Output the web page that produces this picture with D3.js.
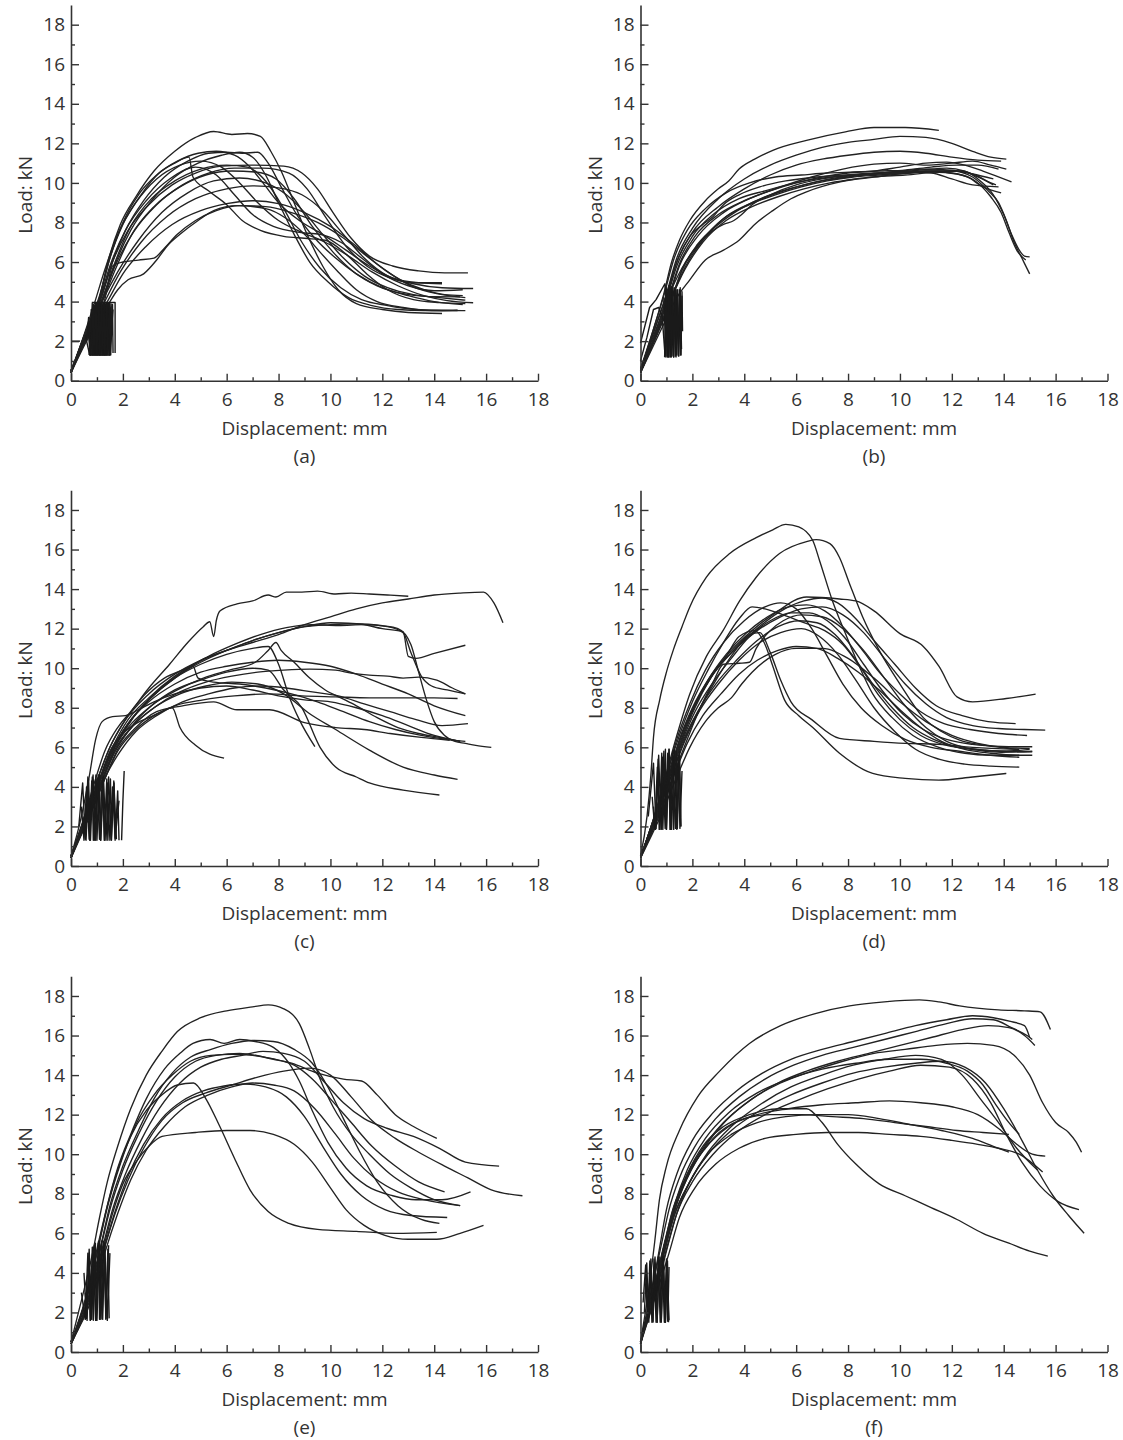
<!DOCTYPE html>
<html>
<head>
<meta charset="utf-8">
<script src="https://cdn.jsdelivr.net/npm/d3@7"></script>
<style>
  body { margin: 0; background: #fff; }
  svg { display: block; }
  text { font-family: "Open Sans", "DejaVu Sans", sans-serif; fill: #333; }
</style>
</head>
<body>
<script>
// tick values and labels
const xTicks = d3.range(0, 19, 1);
const yTicks = d3.range(0, 20, 1);
const xLabel = "Displacement: mm";
const yLabel = "Load: kN";
const panelNames = ["(a)", "(b)", "(c)", "(d)", "(e)", "(f)"];

// ---- panel (a): [displacement mm, load kN]
const curvesA = [
  [[0,0.4],[0.6,2.5],[1.1,4.2],[1.4,5.9],[1.9,7.9],[2.5,9.3],[3.2,10.6],[4,11.6],[4.8,12.3],[5.5,12.6],[6.2,12.45],[6.8,12.5],[7.3,12.35],[7.7,11.6],[8.1,10.6],[8.6,9.0],[9.1,7.4],[9.7,5.8],[10.3,4.6],[11,3.9],[12,3.6],[13,3.45],[14.3,3.4]],
  [[0,0.5],[0.7,2.7],[1.2,4.3],[1.6,6],[2.1,7.6],[2.8,9.1],[3.6,10.3],[4.5,11.1],[5.3,11.5],[6,11.55],[6.6,11.5],[7.2,11.55],[7.6,11.0],[8.1,9.8],[8.7,8.4],[9.4,7.2],[10.2,6.2],[11,5.4],[12,4.7],[13,4.3],[14,4.0],[15.1,3.85]],
  [[0,0.4],[0.6,2.6],[1.1,4.2],[1.5,6.2],[2.0,7.9],[2.7,9.4],[3.4,10.5],[4.0,11.0],[4.55,11.3],[4.7,10.3],[5.3,9.6],[6,8.9],[6.6,8.1],[7.3,7.6],[8.2,7.3],[9,7.2],[9.8,7.1],[10.6,6.4],[11.4,5.4],[12.2,4.6],[13.2,4.1],[14.2,3.95],[15.2,3.9]],
  [[0,0.5],[0.7,2.6],[1.2,4.1],[1.7,5.9],[2.3,7.6],[3.1,9.1],[4,10.3],[4.9,11.0],[5.8,11.4],[6.5,11.55],[7.0,11.3],[7.5,10.4],[8,9.0],[8.6,7.4],[9.2,6.0],[9.9,5.0],[10.7,4.2],[11.6,3.8],[12.6,3.6],[13.6,3.55],[14.9,3.55]],
  [[0,0.4],[0.6,2.4],[1.1,4.0],[1.6,6.0],[2.2,7.6],[3,8.9],[3.9,9.9],[4.8,10.5],[5.8,10.85],[7,10.9],[8.2,10.85],[8.9,10.5],[9.5,9.7],[10.1,8.5],[10.8,7.2],[11.5,6.3],[12.4,5.8],[13.4,5.55],[14.4,5.45],[15.3,5.45]],
  [[0,0.5],[0.7,2.6],[1.2,4.1],[1.7,5.8],[2.4,7.5],[3.3,8.9],[4.3,9.9],[5.3,10.5],[6.3,10.75],[7.4,10.75],[8.4,10.5],[9.1,9.7],[9.8,8.3],[10.6,6.8],[11.4,5.8],[12.3,5.2],[13.3,4.95],[14.3,4.95]],
  [[0,0.4],[0.6,2.5],[1.2,4.0],[1.7,5.6],[2.3,7.3],[3.2,8.8],[4.2,9.8],[5.2,10.4],[6.2,10.6],[7.1,10.55],[7.9,10.2],[8.6,9.2],[9.3,7.8],[10.1,6.5],[10.9,5.5],[11.8,4.8],[12.8,4.4],[13.8,4.25],[15.0,4.24]],
  [[0,0.5],[0.7,2.5],[1.2,4.0],[1.8,5.5],[2.6,7.1],[3.5,8.5],[4.5,9.5],[5.5,10.1],[6.5,10.25],[7.5,10.0],[8.3,9.4],[9,8.5],[9.7,7.4],[10.5,6.2],[11.3,5.3],[12.2,4.7],[13.2,4.35],[14.2,4.2],[15.2,4.07]],
  [[0,0.4],[0.7,2.4],[1.3,4.0],[1.9,5.5],[2.7,7.0],[3.7,8.3],[4.8,9.2],[6,9.7],[7,9.85],[8,9.75],[8.9,9.4],[9.7,8.6],[10.5,7.4],[11.3,6.2],[12.2,5.3],[13.2,4.9],[14.3,4.7],[15.5,4.66]],
  [[0,0.5],[0.8,2.6],[1.4,4.0],[2,5.4],[2.9,6.8],[3.9,7.9],[5,8.6],[6,8.95],[7,9.1],[8,8.95],[9,8.5],[10,7.8],[10.9,6.9],[11.8,5.9],[12.7,5.1],[13.6,4.6],[14.4,4.35],[15.1,4.3]],
  [[0,0.5],[0.8,2.7],[1.3,4.1],[1.6,5.8],[2.0,6.0],[2.6,6.1],[3.2,6.2],[3.6,6.7],[4.1,7.4],[4.8,8.1],[5.6,8.6],[6.5,8.85],[7.5,8.8],[8.5,8.5],[9.5,8.0],[10.4,7.3],[11.3,6.4],[12.2,5.5],[13.1,4.8],[14.1,4.4],[15.2,4.2]],
  [[0,0.4],[0.8,2.5],[1.5,4.0],[1.8,4.6],[2.2,5.1],[2.8,5.4],[3.3,6.1],[3.7,6.8],[4.2,7.4],[4.9,8.1],[5.5,8.6],[6.4,8.85],[7.5,8.7],[8.3,8.2],[9,7.4],[9.6,6.5],[10.3,5.5],[11,4.6],[11.8,4.0],[12.8,3.7],[13.9,3.55],[15.2,3.54]],
  [[0,0.4],[0.5,2.3],[0.9,3.9],[1.3,5.6],[1.8,7.4],[2.5,9.0],[3.3,10.2],[4.2,10.9],[5,11.1],[5.8,10.8],[6.5,10.0],[7.2,9.0],[8,8.1],[8.9,7.5],[9.8,7.0],[10.7,6.3],[11.6,5.5],[12.6,4.8],[13.6,4.3],[14.5,4.05],[15.5,3.94]],
  [[0,0.5],[0.6,2.5],[1.1,4.1],[1.5,5.8],[2.1,7.6],[2.9,9.1],[3.8,10.2],[4.8,10.8],[5.6,10.4],[6.3,9.4],[7,8.4],[7.8,7.8],[8.8,7.5],[9.6,7.4],[10.4,7.0],[11.2,6.2],[12,5.4],[13,4.8],[14,4.55],[15.1,4.6]],
  [[0,0.4],[0.6,2.5],[1.2,4.1],[1.7,6.0],[2.3,7.8],[3.1,9.2],[4,10.1],[5,10.7],[6,10.9],[6.8,10.8],[7.5,10.1],[8.2,8.7],[8.9,7.0],[9.6,5.7],[10.4,4.7],[11.2,4.1],[12.2,3.8],[13.3,3.6],[14.3,3.55],[14.9,3.57]],
  [[0,0.5],[0.6,2.6],[1.1,4.3],[1.5,6.2],[2,8.0],[2.6,9.4],[3.3,10.4],[4.1,11.1],[4.9,11.5],[5.6,11.6],[6.3,11.4],[6.9,10.8],[7.4,10.0],[8,9.0],[8.8,8.1],[9.7,7.4],[10.6,6.6],[11.5,5.8],[12.4,5.2],[13.4,4.95],[14.3,4.9]]
];
const loopsA = [
  [[0,2.0],[0.35,2.0]],
  [[0.55,2.3],[0.72,1.3],[0.82,3.9],[0.8,1.3],[0.95,3.95],[0.9,1.3],[1.05,3.9],[1.0,1.3],[1.15,3.95],[1.1,1.3],[1.25,3.9],[1.2,1.3],[1.35,3.95],[1.3,1.3],[1.45,3.9],[1.42,1.35],[1.55,3.9]],
  [[0.65,2.6],[0.75,1.3],[0.88,3.7],[0.85,1.3],[1.0,3.8],[0.95,1.3],[1.1,3.85],[1.05,1.3],[1.2,3.8],[1.15,1.3],[1.3,3.85],[1.25,1.3],[1.4,3.8],[1.36,1.3],[1.5,3.7],[1.48,1.3],[1.62,3.6]],
  [[0.7,1.3],[0.78,3.6],[0.83,1.3],[0.9,3.8],[0.93,1.3],[1.0,3.9],[1.03,1.3],[1.1,3.95],[1.13,1.3],[1.2,3.95],[1.23,1.3],[1.3,3.95],[1.33,1.3],[1.4,3.9],[1.43,1.3],[1.5,3.9],[1.53,1.3],[1.6,3.85],[1.62,1.4]],
  [[0.6,2.0],[0.68,3.2],[0.76,1.3],[0.86,3.85],[0.88,1.3],[0.97,3.9],[0.99,1.3],[1.08,3.9],[1.09,1.3],[1.18,3.95],[1.19,1.3],[1.28,3.9],[1.29,1.3],[1.38,3.95],[1.39,1.3],[1.48,3.9],[1.5,1.3],[1.58,3.8]],
  [[0.8,3.95],[1.7,3.95],[1.7,1.4]],
  [[0.72,1.3],[1.5,1.3]]
];

// ---- panel (b)
const curvesB = [
  [[0,0.5],[0.5,2.6],[0.9,4.4],[1.2,6.0],[1.5,7.1],[1.9,8.1],[2.5,9.1],[3.0,9.7],[3.4,10.1],[3.8,10.7],[4.4,11.2],[5.1,11.65],[6.4,12.15],[7.9,12.58],[9,12.8],[10.2,12.8],[11.5,12.66]],
  [[0,0.6],[0.6,2.8],[1.0,4.4],[1.4,6.2],[2,7.7],[3,9.2],[4,10.2],[5,10.9],[6,11.4],[7,11.8],[8,12.05],[9,12.2],[10,12.35],[11,12.3],[12,12.0],[12.8,11.6],[13.5,11.3],[14.1,11.2]],
  [[0,0.4],[0.6,2.8],[1.0,4.3],[1.4,6.0],[2,7.5],[3,8.8],[4,9.7],[5,10.4],[6,10.9],[7,11.2],[8,11.4],[9,11.55],[10,11.6],[11,11.5],[12,11.3],[13,11.15],[13.9,11.1]],
  [[0,0.5],[0.6,2.6],[1.1,4.2],[1.5,5.8],[2.2,7.3],[3.2,8.5],[4.2,9.2],[5.4,9.8],[6.6,10.3],[7.8,10.7],[9,10.95],[10,11.0],[11,10.9],[12,11.0],[12.8,11.1],[13.5,10.9],[14.1,10.7]],
  [[0,0.4],[0.7,2.7],[1.1,4.3],[1.5,5.9],[2.1,7.3],[3,8.4],[4,9.1],[5,9.6],[6,10.0],[7,10.3],[8,10.5],[9,10.6],[10,10.8],[11,11.0],[11.8,11.05],[12.5,10.9],[13.2,10.6],[14.3,10.05]],
  [[0,0.5],[0.7,2.7],[1.1,4.3],[1.6,5.7],[2.3,7.0],[3.2,8.2],[4.2,8.9],[5.2,9.4],[6.2,9.8],[7.2,10.1],[8.2,10.3],[9.2,10.4],[10.2,10.5],[11.2,10.6],[12,10.6],[12.8,10.3],[13.4,9.6],[13.8,9.0],[14.1,8.1],[14.4,7.0],[14.7,6.2],[15,5.4]],
  [[0,0.4],[0.6,2.5],[1.0,4.1],[1.4,5.8],[2,7.3],[2.8,8.4],[3.8,9.2],[4.8,9.6],[5.8,9.95],[6.8,10.2],[7.8,10.35],[8.8,10.45],[9.8,10.55],[10.8,10.65],[11.8,10.75],[12.5,10.6],[13.1,10.1],[13.6,9.4],[14.0,8.4],[14.3,7.4],[14.6,6.6],[14.8,6.3],[15.0,6.26]],
  [[0,0.5],[0.7,2.6],[1.2,4.2],[1.7,5.6],[2.4,7.0],[3.3,8.1],[4.3,8.8],[5.3,9.3],[6.3,9.7],[7.3,10.0],[8.3,10.2],[9.3,10.35],[10.3,10.5],[11.3,10.55],[12.2,10.45],[12.9,10.1],[13.5,9.3],[13.9,8.5],[14.2,7.5],[14.5,6.6],[14.85,6.1]],
  [[0,0.4],[0.7,2.5],[1.2,4.1],[1.6,5.6],[2.2,6.9],[3,7.9],[4,8.8],[5,9.4],[6,9.8],[7,10.1],[8,10.3],[9,10.45],[10,10.6],[11,10.7],[12,10.65],[12.8,10.45],[13.6,10.2]],
  [[0,0.5],[0.7,2.6],[1.2,4.2],[1.7,5.7],[2.4,7.1],[3.3,8.3],[4.3,9.0],[5.3,9.5],[6.3,9.9],[7.3,10.2],[8.3,10.4],[9.3,10.5],[10.3,10.55],[11.2,10.5],[12,10.2],[12.8,9.9],[13.8,9.8]],
  [[0,0.4],[0.8,2.6],[1.4,4.2],[1.9,5.1],[2.5,6.1],[3.2,6.6],[3.8,7.1],[4.4,7.9],[5.1,8.6],[5.8,9.2],[6.4,9.55],[7.7,10.05],[9,10.3],[10.2,10.4],[11.5,10.56],[12.4,10.6],[13.0,10.3],[13.6,9.9]],
  [[0,0.5],[0.7,2.6],[1.2,4.2],[1.6,5.6],[2.2,6.8],[2.8,7.6],[3.2,7.9],[3.6,8.1],[3.9,8.4],[4.3,8.9],[5,9.4],[6,9.9],[7,10.2],[8,10.4],[9,10.5],[10,10.55],[11,10.6],[12,10.5],[12.6,10.3],[13.2,9.8],[13.9,9.5]],
  [[0,0.4],[0.6,2.5],[1.0,4.2],[1.4,6.0],[1.9,7.3],[2.4,7.9],[2.8,8.3],[3.2,8.9],[3.8,9.4],[4.6,9.8],[5.6,10.1],[6.8,10.3],[8,10.4],[9.2,10.45],[10.4,10.5],[11.4,10.6],[12.2,10.6],[12.9,10.4],[13.5,10.0],[13.7,9.9]],
  [[0,0.6],[0.5,2.6],[0.9,4.3],[1.3,6.2],[1.8,7.6],[2.5,8.7],[3.3,9.5],[4.2,10.0],[5.2,10.3],[6.2,10.4],[7.2,10.5],[8.2,10.55],[9.2,10.6],[10.2,10.65],[11.2,10.8],[12.2,10.9],[13,10.9],[13.8,10.7]]
];
const loopsB = [
  [[0.85,3.0],[0.95,1.2],[1.0,4.7],[1.05,1.2],[1.1,4.8],[1.15,1.2],[1.2,4.75],[1.25,1.25],[1.3,4.7],[1.35,1.25],[1.4,4.6],[1.45,1.3],[1.5,4.6],[1.55,1.3],[1.6,4.5],[1.62,2.5]],
  [[0.9,4.2],[0.98,1.25],[1.03,4.4],[1.08,1.2],[1.13,4.5],[1.18,1.25],[1.23,4.6],[1.28,1.2],[1.33,4.5],[1.38,1.3],[1.43,4.4],[1.48,1.25],[1.53,4.7],[1.58,1.6]],
  [[0.93,1.2],[0.99,4.5],[1.02,1.2],[1.07,4.6],[1.1,1.2],[1.16,4.7],[1.19,1.2],[1.25,4.7],[1.28,1.2],[1.34,4.6],[1.37,1.2],[1.43,4.6],[1.46,1.25],[1.52,4.5],[1.56,1.3],[1.6,4.3]],
  [[0,1.9],[0.35,3.7],[0.6,4.1],[0.94,4.9],[1.0,4.0]],
  [[0,1.0],[0.25,2.2],[0.5,3.6],[0.7,3.7],[0.9,3.0]]
];

// ---- panel (c)
const curvesC = [
  [[0,0.4],[0.5,2.4],[0.9,4.2],[1.3,5.8],[1.8,7.0],[2.3,7.8],[3,9.0],[3.8,10.2],[4.5,11.3],[5.1,12.1],[5.35,12.35],[5.5,11.6],[5.6,12.4],[5.75,12.9],[6.4,13.25],[7,13.4],[7.6,13.7],[7.9,13.6],[8.3,13.85],[8.9,13.85],[9.5,13.9],[10.2,13.75],[10.8,13.8],[11.5,13.75],[12.2,13.7],[13.0,13.64]],
  [[0,0.5],[0.6,2.8],[1.0,4.3],[1.5,6.0],[2,7.2],[3,8.7],[4,9.7],[5,10.4],[6,10.9],[7,11.3],[8,11.7],[9,12.2],[10,12.6],[11,13.0],[12,13.3],[13,13.5],[14,13.7],[15,13.8],[15.9,13.85],[16.3,13.3],[16.65,12.3]],
  [[0,0.4],[0.6,2.7],[1.1,4.4],[1.6,6.0],[2.2,7.4],[3,8.5],[4,9.6],[5,10.4],[6,10.9],[7,11.4],[8,11.8],[9,12.1],[10,12.2],[11,12.25],[12,12.0],[12.8,11.85],[13.0,10.6],[13.3,10.5],[14,10.75],[15.2,11.16]],
  [[0,0.5],[0.7,2.8],[1.2,4.4],[1.7,6.0],[2.4,7.5],[3.3,8.8],[4.3,9.8],[5.3,10.6],[6.3,11.2],[7.3,11.7],[8.3,12.05],[9.3,12.2],[10.3,12.15],[11.3,12.2],[12.2,12.1],[12.8,11.8],[13.1,10.8],[13.5,9.6],[13.9,9.1],[14.5,8.9],[15.2,8.7]],
  [[0,0.4],[0.6,2.6],[1.1,4.3],[1.6,5.9],[2.2,7.2],[3,8.4],[4,9.5],[5,10.3],[6,10.9],[7,11.4],[8,11.8],[9,12.1],[10,12.3],[11,12.25],[12,12.15],[12.6,12.0],[13.1,11.2],[13.4,9.8],[13.7,8.4],[14.0,7.3],[14.4,6.6],[14.8,6.3],[15.2,6.2],[15.6,6.1],[16.2,6.0]],
  [[0,0.5],[0.7,2.9],[1.1,4.4],[1.5,5.8],[2,6.7],[2.5,7.2],[3,7.5],[3.5,7.8],[3.9,8.0],[4.2,7.0],[4.8,6.1],[5.9,5.45]],
  [[0,0.4],[0.6,2.6],[1.1,4.2],[1.6,5.8],[2.2,7.0],[3,8.0],[4,8.9],[5,9.4],[6,9.8],[7,10.0],[7.6,9.9],[8.2,8.9],[8.9,8.0],[9.6,6.0],[10.2,5.0],[11,4.5],[11.5,4.2],[12.8,3.84],[14.2,3.59]],
  [[0,0.5],[0.7,2.7],[1.2,4.3],[1.7,5.9],[2.4,7.1],[3.2,8.0],[4.2,8.7],[5.2,9.1],[6.2,9.3],[7.2,9.2],[8.2,8.7],[9.2,7.7],[10.2,6.9],[11.5,5.86],[12.8,5.0],[14.0,4.6],[14.9,4.38]],
  [[0,0.4],[0.6,2.6],[1.1,4.3],[1.6,5.9],[2.2,7.2],[3,8.4],[4,9.5],[5,10.2],[6,10.7],[7,11.0],[7.6,11.1],[8,10.2],[8.4,8.6],[8.8,7.4],[9.4,6.03]],
  [[0,0.5],[0.8,2.8],[1.3,4.4],[1.8,5.8],[2.5,6.9],[3.2,7.6],[4,8.1],[5.1,8.4],[6.3,8.6],[7.6,8.7],[8.9,8.6],[10.2,8.55],[11.5,8.5],[12.8,8.5],[14.0,8.5],[14.9,8.47]],
  [[0,0.4],[0.7,2.7],[1.2,4.3],[1.7,5.8],[2.4,7.1],[3.2,8.0],[4.2,8.8],[5.2,9.3],[6.2,9.6],[7.2,9.8],[8.2,9.9],[9.2,9.95],[10.2,9.9],[10.8,9.75],[11.5,9.65],[12.2,9.6],[12.8,9.5],[13.4,9.55],[14.1,9.4],[14.7,9.0],[15.2,8.7]],
  [[0,0.5],[0.6,2.6],[1.1,4.3],[1.6,5.9],[2.2,7.2],[3,8.3],[4,9.2],[5,9.8],[6,10.1],[7,10.3],[8,10.4],[9,10.3],[10,10.1],[11,9.7],[12,9.2],[13,8.7],[14,8.1],[15.2,7.6]],
  [[0,0.4],[0.8,2.8],[1.3,4.4],[1.8,5.9],[2.5,7.0],[3.3,7.8],[4.3,8.1],[5.5,8.3],[6.4,7.9],[7.65,7.9],[9,7.25],[10.2,7.0],[11.3,6.9],[12.3,6.7],[13.5,6.5],[14.6,6.36]],
  [[0,0.5],[0.7,2.7],[1.2,4.3],[1.7,5.8],[2.3,7.0],[3.1,8.1],[4.1,8.9],[5.1,9.5],[6.1,9.9],[7.1,10.3],[7.6,10.9],[7.9,11.3],[8.1,10.9],[8.6,10.3],[9.2,9.5],[9.8,8.9],[10.4,8.5],[11,8.1],[11.8,7.5],[12.6,7.0],[13.4,6.7],[14.2,6.5],[15,6.3]],
  [[0,0.4],[0.7,2.6],[1.2,4.2],[1.8,5.6],[2.5,6.8],[3.3,7.6],[4.3,8.3],[5.3,8.7],[6.3,9.0],[7.3,9.1],[8.3,9.0],[9.3,8.8],[10.3,8.6],[11.3,8.2],[12.3,7.8],[13.3,7.4],[14.3,7.1],[15.3,7.2]],
  [[0,0.5],[0.4,2.5],[0.7,4.5],[0.95,6.4],[1.2,7.3],[1.6,7.55],[2.1,7.6],[2.6,7.9],[3.2,8.3],[4,8.7],[5,9.0],[6,9.1],[7,8.9],[8,8.6],[9,8.4],[10,8.3],[11,8.0],[12,7.6],[13,7.1],[14,6.6],[15,6.3]],
  [[0,0.4],[0.6,2.7],[1.0,4.3],[1.5,6.0],[2.1,7.4],[2.8,8.6],[3.6,9.5],[4.3,9.9],[4.7,10.1],[4.9,9.5],[5.5,9.3],[6.5,9.2],[7.5,9.0],[8.5,8.7],[9.5,8.3],[10.5,7.8],[11.5,7.3],[12.5,6.9],[13.5,6.6],[14.5,6.4],[15.2,6.3]]
];
const loopsC = [
  [[0.3,2.0],[0.45,4.2],[0.55,1.35],[0.65,4.5],[0.75,1.3],[0.85,4.6],[0.95,1.3],[1.05,4.6],[1.15,1.3],[1.25,4.5],[1.35,1.3],[1.45,4.5],[1.55,1.35],[1.65,4.3],[1.75,1.35]],
  [[0.4,3.0],[0.5,1.3],[0.6,4.0],[0.7,1.35],[0.8,4.3],[0.9,1.3],[1.0,4.4],[1.1,1.35],[1.2,4.3],[1.3,1.3],[1.4,4.2],[1.5,1.3],[1.6,4.0],[1.7,1.4],[1.85,3.3]],
  [[0.5,2.5],[0.58,1.3],[0.68,4.4],[0.72,1.3],[0.82,4.5],[0.86,1.3],[0.96,4.6],[1.0,1.3],[1.1,4.6],[1.14,1.3],[1.24,4.5],[1.28,1.3],[1.38,4.4],[1.42,1.3],[1.52,4.4],[1.56,1.3],[1.66,4.2],[1.7,1.3],[1.8,3.8],[1.85,1.3]],
  [[1.95,1.3],[2.0,3.3],[2.05,4.8]]
];

// ---- panel (d)
const curvesD = [
  [[0,0.5],[0.25,2.5],[0.4,4.6],[0.5,6.5],[0.74,8.4],[1.0,9.8],[1.26,10.9],[1.6,12.1],[1.9,13.1],[2.54,14.6],[3.44,15.8],[4.46,16.6],[5.1,17.0],[5.6,17.27],[6.1,17.14],[6.64,16.46],[6.9,15.45],[7.4,13.4],[7.9,11.75],[8.44,10.07],[8.95,8.7],[9.7,7.5],[10.5,6.6],[11.5,6.0],[12.5,5.7],[13.5,5.6],[14.6,5.6]],
  [[0,0.4],[0.6,2.8],[1.0,4.7],[1.4,6.6],[1.9,8.7],[2.54,10.6],[3.18,11.9],[3.82,13.4],[4.46,14.6],[5.36,15.8],[6.4,16.4],[6.77,16.5],[7.3,16.3],[7.67,15.6],[8.05,14.3],[8.56,12.6],[9.2,10.9],[10,9.2],[10.9,7.5],[11.6,6.8],[12.3,6.36],[13.3,6.1],[14.5,5.9]],
  [[0,0.5],[0.7,2.9],[1.1,4.6],[1.5,6.4],[2,8.0],[2.7,9.6],[3.5,10.9],[4.3,11.9],[5.2,12.8],[6.4,13.6],[7.67,13.5],[8.3,13.4],[9,12.9],[10,11.75],[10.9,11.1],[11.5,10.1],[12.2,8.55],[12.8,8.3],[14.1,8.47],[15.23,8.69]],
  [[0,0.4],[0.6,2.7],[1.1,4.5],[1.5,6.3],[2,7.9],[2.7,9.5],[3.5,10.8],[4.4,11.9],[5.3,12.8],[6.3,13.4],[7,13.55],[7.6,13.3],[8.3,12.5],[9,11.4],[9.8,10.2],[10.6,9.0],[11.4,8.1],[12.4,7.6],[13.4,7.3],[14.46,7.2]],
  [[0,0.5],[0.7,2.8],[1.1,4.6],[1.6,6.5],[2.1,8.1],[2.8,9.7],[3.6,10.9],[4.5,11.9],[5.4,12.6],[6.2,13.0],[7,13.1],[7.8,12.7],[8.6,11.8],[9.4,10.5],[10.2,9.2],[11,8.2],[11.8,7.5],[12.8,7.1],[13.8,6.95],[14.8,6.9],[15.6,6.87]],
  [[0,0.4],[0.6,2.6],[1.0,4.4],[1.5,6.3],[2.0,7.9],[2.6,9.4],[3.3,10.7],[4.1,11.8],[4.9,12.6],[5.7,13.1],[6.4,13.2],[7.1,12.9],[7.8,12.1],[8.5,11.0],[9.2,9.8],[10,8.7],[10.8,7.8],[11.7,7.2],[12.7,6.9],[13.8,6.7],[14.9,6.6]],
  [[0,0.5],[0.7,2.7],[1.1,4.5],[1.6,6.3],[2.1,7.8],[2.8,9.3],[3.5,10.5],[4.2,11.6],[5,12.4],[5.8,12.8],[6.5,12.8],[7.2,12.4],[7.9,11.5],[8.6,10.2],[9.3,8.9],[10.1,7.7],[10.9,6.9],[11.8,6.4],[12.8,6.15],[13.9,6.05],[15.1,6.03]],
  [[0,0.4],[0.6,2.6],[1.1,4.4],[1.6,6.2],[2.2,7.8],[2.9,9.2],[3.7,10.4],[4.5,11.4],[5.3,12.1],[6.1,12.4],[6.8,12.3],[7.5,11.7],[8.2,10.6],[8.9,9.3],[9.7,8.0],[10.5,7.0],[11.3,6.4],[12.2,6.0],[13.3,5.85],[15.1,5.77]],
  [[0,0.5],[0.7,2.8],[1.2,4.6],[1.7,6.3],[2.3,7.9],[3.0,9.2],[3.8,10.4],[4.6,11.3],[5.4,11.8],[6.2,12.0],[6.9,11.6],[7.6,10.7],[8.3,9.4],[9,8.0],[9.8,6.8],[10.6,5.9],[11.5,5.4],[12.5,5.15],[13.5,5.05],[14.6,5.0]],
  [[0,0.4],[0.6,2.7],[1.1,4.5],[1.6,6.4],[2.1,8.0],[2.7,9.5],[3.3,10.6],[3.8,11.6],[4.4,11.9],[4.8,11.2],[5.1,10.1],[5.55,8.4],[6.1,7.6],[6.64,7.0],[7.67,5.7],[8.95,4.68],[10.2,4.43],[11.5,4.34],[12.8,4.5],[14.1,4.68]],
  [[0,0.5],[0.7,2.8],[1.2,4.6],[1.7,6.4],[2.3,8.0],[3,9.6],[3.6,10.8],[4.2,11.7],[4.6,11.8],[5.0,10.8],[5.4,9.4],[5.8,8.3],[6.6,7.4],[7.67,6.45],[9,6.3],[10.2,6.2],[11.5,6.15],[12.8,6.0],[14.6,5.9]],
  [[0,0.4],[0.8,2.8],[1.3,4.6],[1.8,6.2],[2.4,7.6],[3.1,8.7],[3.8,9.7],[4.5,10.4],[5.3,10.9],[6.0,11.1],[6.8,11.0],[7.6,10.5],[8.4,9.8],[9.2,8.9],[10,7.9],[10.8,7.0],[11.6,6.3],[12.5,5.9],[13.5,5.7],[14.5,5.6],[15.1,5.6]],
  [[0,0.5],[0.8,2.9],[1.3,4.7],[1.8,6.4],[2.3,8.0],[2.8,9.3],[3.2,10.2],[3.8,10.25],[4.2,10.3],[4.46,11.0],[5.0,11.9],[5.5,12.4],[6.2,12.7],[7,12.6],[7.8,12.0],[8.6,10.9],[9.4,9.5],[10.2,8.1],[11,7.0],[11.8,6.3],[12.8,5.9],[13.9,5.75],[15.1,5.8]],
  [[0,0.4],[0.8,2.6],[1.4,4.5],[1.9,6.0],[2.5,7.3],[3.0,8.0],[3.5,8.5],[3.9,9.2],[4.3,9.8],[5.2,10.7],[6,11.0],[7,11.0],[8,10.5],[9,9.5],[10,8.3],[11,7.3],[12,6.6],[13,6.2],[14,6.0],[15.0,5.95]],
  [[0,0.5],[0.6,2.7],[1.0,4.5],[1.4,6.4],[1.9,8.2],[2.5,9.9],[3.2,11.3],[4,12.4],[4.8,13.1],[5.4,13.3],[6.0,13.0],[6.6,12.0],[7.2,10.6],[7.8,9.2],[8.5,8.0],[9.3,7.1],[10.2,6.4],[11.2,6.0],[12.3,5.8],[13.5,5.6],[14.6,5.5]],
  [[0,0.4],[0.6,2.8],[1.0,4.6],[1.5,6.6],[2,8.3],[2.6,9.9],[3.2,11.3],[3.8,12.5],[4.3,13.1],[4.8,13.0],[5.5,12.7],[6.3,12.3],[7.1,11.9],[7.8,11.2],[8.5,10.0],[9.2,8.6],[10,7.4],[10.8,6.6],[11.8,6.1],[13,5.9],[14,5.8],[15.0,5.9]]
];
const loopsD = [
  [[0.3,2.5],[0.5,5.2],[0.6,1.9],[0.7,5.6],[0.8,1.85],[0.9,5.8],[1.0,1.85],[1.1,5.9],[1.2,1.85],[1.3,5.9],[1.4,1.85],[1.5,5.8],[1.55,2.0]],
  [[0.45,3.5],[0.55,1.9],[0.65,5.0],[0.75,1.85],[0.85,5.5],[0.95,1.9],[1.05,5.7],[1.15,1.85],[1.25,5.6],[1.35,1.9],[1.45,5.5],[1.52,1.9],[1.6,4.8]],
  [[0.5,3.0],[0.58,1.85],[0.68,5.4],[0.72,1.85],[0.82,5.7],[0.86,1.85],[0.96,5.9],[1.0,1.85],[1.1,5.9],[1.14,1.85],[1.24,5.8],[1.28,1.85],[1.38,5.8],[1.42,1.9],[1.5,5.6],[1.56,2.0]]
];

// ---- panel (e)
const curvesE = [
  [[0,0.5],[0.4,2.6],[0.8,4.8],[1.1,6.8],[1.4,8.6],[1.8,10.4],[2.3,12.3],[2.9,14.0],[3.5,15.2],[4.1,16.2],[5,16.9],[6,17.25],[7,17.45],[7.6,17.55],[8.2,17.35],[8.8,16.6],[9.2,15.3],[9.6,13.8],[10.1,12.4],[10.8,11.0],[11.5,10.0],[12.3,9.0],[13.1,8.3],[14.0,7.7],[15.0,7.4]],
  [[0,0.4],[0.6,2.8],[1.0,5.0],[1.4,7.4],[1.8,9.3],[2.3,11.0],[2.9,12.8],[3.6,14.3],[4.2,15.1],[4.7,15.6],[5.36,15.8],[5.9,15.6],[6.5,15.8],[7.1,15.7],[7.8,15.4],[8.4,14.6],[8.8,13.7],[9.3,12.2],[9.9,10.6],[10.6,9.3],[11.4,8.4],[12.4,7.9],[13.3,7.7],[14.3,7.7],[15.4,8.1]],
  [[0,0.5],[0.6,2.7],[1.1,5.1],[1.5,7.4],[2.0,9.4],[2.6,11.2],[3.2,12.8],[3.9,14.1],[4.6,14.9],[5.4,15.3],[6.2,15.6],[7,15.75],[7.8,15.7],[8.6,15.3],[9.3,14.6],[9.9,13.4],[10.5,11.8],[11.1,10.2],[11.8,8.6],[12.6,7.4],[13.5,6.7],[14.2,6.5]],
  [[0,0.4],[0.7,2.8],[1.1,5.0],[1.5,7.2],[2.0,9.2],[2.6,11.0],[3.3,12.7],[4.0,13.9],[4.8,14.7],[5.6,15.0],[6.5,15.1],[7.5,14.9],[8.5,14.6],[9.5,14.1],[10.5,13.8],[11.2,13.7],[11.8,13.0],[12.5,12.0],[13.2,11.4],[14.1,10.8]],
  [[0,0.5],[0.7,2.9],[1.2,5.2],[1.6,7.2],[2.1,9.0],[2.7,10.7],[3.4,12.3],[4.2,13.6],[5,14.4],[5.8,14.8],[6.6,15.0],[7.4,15.2],[8.2,15.1],[9,14.7],[9.8,13.6],[10.5,12.6],[11.3,11.8],[12.2,11.3],[13.2,10.9],[14.2,10.3],[15.2,9.6],[16.5,9.4]],
  [[0,0.4],[0.8,2.9],[1.3,5.3],[1.7,7.0],[2.2,8.7],[2.8,10.3],[3.5,11.7],[4.3,12.6],[5.2,13.1],[6.2,13.5],[7.2,13.9],[8.2,14.2],[9.2,14.35],[10,14.0],[10.8,12.9],[11.6,11.7],[12.5,10.8],[13.4,10.1],[14.4,9.4],[15.3,8.8],[16.2,8.2],[17.4,7.9]],
  [[0,0.5],[0.8,2.7],[1.3,5.0],[1.8,7.0],[2.3,8.7],[2.9,10.2],[3.6,11.4],[4.4,12.4],[5.3,13.0],[6.2,13.4],[7,13.6],[7.8,13.5],[8.6,13.2],[9.4,12.3],[10.2,11.0],[10.9,9.8],[11.7,8.8],[12.6,8.1],[13.6,7.7],[15.0,7.4]],
  [[0,0.4],[0.7,2.7],[1.2,4.9],[1.7,7.1],[2.2,8.9],[2.8,10.5],[3.5,11.8],[4.3,12.7],[5.1,13.2],[5.9,13.45],[6.7,13.55],[7.5,13.4],[8.3,12.9],[9,11.9],[9.7,10.4],[10.4,9.0],[11.2,7.9],[12.1,7.2],[13.1,6.9],[14.5,6.8]],
  [[0,0.5],[0.6,2.9],[1.0,5.2],[1.4,7.4],[1.8,9.2],[2.3,10.9],[2.9,12.2],[3.5,13.0],[4.1,13.5],[4.72,13.6],[5.2,12.8],[5.7,11.5],[6.3,9.8],[6.9,8.2],[7.6,7.1],[8.4,6.5],[9.5,6.2],[11,6.1],[12.5,6.0],[14.1,6.05]],
  [[0,0.4],[0.7,2.7],[1.2,5.0],[1.6,7.0],[2.0,8.5],[2.5,9.6],[3.0,10.4],[3.51,10.9],[4.8,11.1],[6,11.2],[6.9,11.2],[7.8,11.0],[8.6,10.5],[9.3,9.6],[10,8.3],[10.6,7.2],[11.3,6.4],[12.1,5.9],[13,5.7],[14.1,5.7],[15.0,6.0],[15.9,6.4]],
  [[0,0.5],[0.6,2.8],[1.0,5.0],[1.4,7.3],[1.9,9.5],[2.5,11.5],[3.2,13.0],[3.9,14.0],[4.6,14.7],[5.4,15.0],[6.2,15.05],[7,15.0],[7.8,14.8],[8.6,14.5],[9.3,13.8],[10,12.8],[10.8,11.6],[11.6,10.4],[12.5,9.4],[13.4,8.6],[14.4,8.1]]
];
const loopsE = [
  [[0.4,3.0],[0.55,1.65],[0.65,5.0],[0.75,1.6],[0.85,5.3],[0.95,1.6],[1.05,5.5],[1.15,1.65],[1.25,5.6],[1.35,1.7],[1.45,5.4]],
  [[0.5,4.0],[0.6,1.7],[0.7,5.2],[0.8,1.65],[0.9,5.4],[1.0,1.6],[1.1,5.6],[1.2,1.7],[1.3,5.5],[1.4,1.6],[1.5,5.0]],
  [[0.55,3.0],[0.62,1.6],[0.7,5.0],[0.74,1.6],[0.82,5.3],[0.86,1.6],[0.94,5.5],[0.98,1.6],[1.06,5.6],[1.1,1.65],[1.18,5.6],[1.22,1.65],[1.3,5.5],[1.34,1.65],[1.42,5.2],[1.47,1.7]]
];

// ---- panel (f)
const curvesF = [
  [[0,0.5],[0.3,3.0],[0.55,5.6],[0.73,7.7],[1.0,9.4],[1.5,11.2],[2.2,12.9],[3.05,14.2],[4.2,15.6],[5.4,16.5],[6.7,17.1],[8.06,17.5],[9.4,17.7],[10.75,17.8],[11.5,17.7],[12.3,17.5],[13.8,17.3],[14.8,17.25],[15.4,17.2],[15.8,16.3]],
  [[0,0.4],[0.4,2.8],[0.7,5.0],[1.0,7.2],[1.4,9.0],[2,10.7],[2.8,12.1],[3.7,13.2],[4.7,14.1],[5.8,14.8],[7,15.3],[8.2,15.7],[9.4,16.1],[10.6,16.5],[11.8,16.8],[12.8,17.0],[13.6,16.9],[14.3,16.7],[14.8,16.5],[15.0,15.9]],
  [[0,0.5],[0.4,3.0],[0.8,5.4],[1.1,7.2],[1.5,8.8],[2.1,10.4],[2.9,11.8],[3.8,12.9],[4.8,13.8],[5.9,14.5],[7,15.0],[8.2,15.4],[9.4,15.8],[10.6,16.2],[11.8,16.6],[12.8,16.85],[13.6,16.8],[14.3,16.4],[14.9,16.0],[15.1,15.8]],
  [[0,0.4],[0.5,3.1],[0.9,5.3],[1.2,7.0],[1.7,8.7],[2.4,10.3],[3.2,11.6],[4.2,12.7],[5.3,13.6],[6.4,14.2],[7.6,14.7],[8.8,15.1],[10,15.5],[11.2,15.9],[12.4,16.3],[13.4,16.5],[14.2,16.4],[14.8,16.0],[15.2,15.5]],
  [[0,0.5],[0.5,3.0],[0.9,5.2],[1.3,7.1],[1.8,8.8],[2.5,10.4],[3.3,11.7],[4.3,12.8],[5.4,13.6],[6.6,14.2],[7.8,14.7],[9,15.1],[10.2,15.3],[11.4,15.5],[12.6,15.6],[13.6,15.5],[14.4,15.0],[15.0,14.0],[15.5,12.6],[16.0,11.6],[16.5,11.1],[16.8,10.6],[17.0,10.1]],
  [[0,0.4],[0.5,2.9],[0.9,5.0],[1.3,6.9],[1.9,8.6],[2.6,10.0],[3.5,11.2],[4.6,12.2],[5.8,13.0],[7,13.6],[8.2,14.1],[9.4,14.4],[10.6,14.6],[11.6,14.7],[12.5,14.4],[13.3,13.6],[14,12.3],[14.7,10.7],[15.3,9.2],[15.9,7.9],[16.5,6.9],[17.1,6.0]],
  [[0,0.5],[0.6,3.1],[1.0,5.2],[1.4,7.0],[2.0,8.6],[2.8,10.0],[3.7,11.1],[4.8,12.0],[6,12.7],[7.2,13.3],[8.4,13.8],[9.6,14.2],[10.8,14.5],[11.9,14.4],[12.8,13.8],[13.5,12.6],[14.1,11.0],[14.7,9.6],[15.4,8.4],[16.1,7.6],[16.9,7.2]],
  [[0,0.4],[0.5,3.0],[0.9,5.3],[1.3,7.3],[1.8,9.0],[2.4,10.4],[3.2,11.4],[4.2,12.0],[5.4,12.3],[6.4,12.3],[7.0,11.6],[7.6,10.5],[8.3,9.5],[9.2,8.5],[10.2,7.9],[11.2,7.3],[12.2,6.7],[13.2,6.0],[14.2,5.5],[15.0,5.1],[15.7,4.85]],
  [[0,0.5],[0.6,3.0],[1.0,5.1],[1.4,7.0],[1.9,8.6],[2.6,10.0],[3.5,11.0],[4.5,11.6],[5.6,11.9],[6.8,12.0],[8,12.0],[9.2,11.8],[10.4,11.5],[11.6,11.2],[12.8,10.8],[13.6,10.4],[14.2,10.1]],
  [[0,0.4],[0.6,2.9],[1.1,5.0],[1.5,6.8],[2.1,8.3],[2.9,9.5],[3.8,10.3],[4.8,10.8],[6,11.0],[7.2,11.1],[8.4,11.1],[9.6,11.0],[10.8,10.9],[12,10.7],[13,10.5],[13.8,10.3],[14.6,10.0],[15.5,9.1]],
  [[0,0.5],[0.5,3.0],[0.9,5.3],[1.3,7.2],[1.8,8.9],[2.5,10.3],[3.4,11.4],[4.5,12.0],[5.7,12.3],[7,12.5],[8.3,12.6],[9.6,12.7],[10.8,12.6],[12,12.4],[13,12.0],[13.8,11.3],[14.5,10.5],[15.1,10.0],[15.6,9.9]],
  [[0,0.4],[0.5,3.1],[0.9,5.4],[1.3,7.4],[1.8,9.2],[2.5,10.8],[3.4,12.1],[4.5,13.1],[5.7,13.8],[7,14.3],[8.3,14.6],[9.6,14.8],[10.8,14.8],[11.8,14.6],[12.6,14.2],[13.2,13.5],[13.7,12.5],[14.2,11.6],[14.6,11.0]],
  [[0,0.5],[0.6,3.2],[1.0,5.5],[1.4,7.5],[2,9.3],[2.8,10.8],[3.8,11.7],[5,12.0],[6.2,12.0],[7.4,11.9],[8.6,11.8],[9.8,11.6],[11,11.4],[12.2,11.2],[13.2,11.1],[14.2,11.0]],
  [[0,0.4],[0.5,2.9],[0.9,5.0],[1.3,6.9],[1.9,8.6],[2.6,10.1],[3.5,11.4],[4.6,12.5],[5.8,13.4],[7,14.0],[8.2,14.5],[9.4,14.8],[10.6,15.0],[11.6,14.8],[12.4,14.0],[13.1,12.8],[13.8,11.6],[14.5,10.3],[15.3,9.2]]
];
const loopsF = [
  [[0.1,2.5],[0.2,4.4],[0.28,1.55],[0.36,4.6],[0.44,1.5],[0.52,4.7],[0.6,1.5],[0.68,4.8],[0.76,1.5],[0.84,4.8],[0.92,1.5],[1.0,4.7],[1.05,1.55],[1.1,4.3]],
  [[0.2,3.2],[0.3,1.6],[0.4,4.2],[0.48,1.55],[0.56,4.5],[0.64,1.5],[0.72,4.6],[0.8,1.55],[0.88,4.7],[0.96,1.5],[1.02,4.6],[1.1,1.6]],
  [[0.15,2.0],[0.24,4.5],[0.32,1.5],[0.4,4.7],[0.48,1.5],[0.56,4.8],[0.64,1.5],[0.72,4.8],[0.8,1.5],[0.88,4.8],[0.96,1.5],[1.04,4.6],[1.08,1.5]]
];

// layout
const W = 1123, H = 1440;
const plotW = 467, plotH = 375.8;
const colX = [71, 640.5];
const rowTop = [4.9, 490.2, 976.2];

const panels = [
  {name: panelNames[0], curves: curvesA, loops: loopsA, col: 0, row: 0},
  {name: panelNames[1], curves: curvesB, loops: loopsB, col: 1, row: 0},
  {name: panelNames[2], curves: curvesC, loops: loopsC, col: 0, row: 1},
  {name: panelNames[3], curves: curvesD, loops: loopsD, col: 1, row: 1},
  {name: panelNames[4], curves: curvesE, loops: loopsE, col: 0, row: 2},
  {name: panelNames[5], curves: curvesF, loops: loopsF, col: 1, row: 2}
];

const svg = d3.select("body").append("svg")
  .attr("width", W)
  .attr("height", H);

const xScale = d3.scaleLinear().domain([0, 18]).range([0, plotW]);
const yScale = d3.scaleLinear().domain([0, 19]).range([plotH, 0]);

const curveLine = d3.line()
  .x(d => xScale(d[0]))
  .y(d => yScale(d[1]))
  .curve(d3.curveMonotoneX);

const loopLine = d3.line()
  .x(d => xScale(d[0]))
  .y(d => yScale(d[1]));

panels.forEach(p => {
  var g = svg.append("g")
    .attr("transform", "translate(" + colX[p.col] + "," + rowTop[p.row] + ")");

  // curves first, axes drawn over them
  g.append("g").selectAll("path")
    .data(p.curves)
    .enter()
    .append("path")
    .attr("d", curveLine)
    .attr("fill", "none")
    .attr("stroke", "#222")
    .attr("stroke-width", 1.35)
    .attr("stroke-linejoin", "round");

  // unloading / reloading cycles near the origin
  g.append("g").selectAll("path")
    .data(p.loops)
    .enter()
    .append("path")
    .attr("d", loopLine)
    .attr("fill", "none")
    .attr("stroke", "#1a1a1a")
    .attr("stroke-width", 1.4)
    .attr("stroke-linejoin", "round");

  // x axis, ticks pointing up into the plot
  var xAxis = d3.axisBottom(xScale)
    .tickValues(xTicks)
    .tickSizeInner(-7)
    .tickSizeOuter(0)
    .tickPadding(11.5)
    .tickFormat(d => d % 2 === 0 ? d : "");

  g.append("g")
    .attr("transform", "translate(0," + plotH + ")")
    .call(xAxis)
    .call(a => a.select(".domain").attr("stroke", "#333").attr("stroke-width", 1.6))
    .call(a => a.selectAll(".tick line").attr("stroke", "#333").attr("stroke-width", 1.4)
       .attr("y2", d => d % 2 === 0 ? -7 : -3.5))
    .call(a => a.selectAll(".tick text").attr("font-size", 19).attr("fill", "#333")
       .style("font-family", "'Open Sans', sans-serif"));

  // y axis, ticks pointing right
  var yAxis = d3.axisLeft(yScale)
    .tickValues(yTicks)
    .tickSizeInner(-8)
    .tickSizeOuter(0)
    .tickPadding(6)
    .tickFormat(d => (d % 2 === 0 && d <= 18) ? d : "");

  g.append("g")
    .call(yAxis)
    .call(a => a.select(".domain").attr("stroke", "#333").attr("stroke-width", 1.6))
    .call(a => a.selectAll(".tick line").attr("stroke", "#333").attr("stroke-width", 1.4)
       .attr("x2", d => d === 19 ? 0 : (d % 2 === 0 ? 8 : 4)))
    .call(a => a.selectAll(".tick text").attr("font-size", 19).attr("fill", "#333")
       .style("font-family", "'Open Sans', sans-serif"));

  // axis titles and panel letter
  g.append("text")
    .attr("x", plotW / 2)
    .attr("y", plotH + 54.5)
    .attr("text-anchor", "middle")
    .attr("font-size", 19)
    .text(xLabel);

  g.append("text")
    .attr("x", plotW / 2)
    .attr("y", plotH + 82)
    .attr("text-anchor", "middle")
    .attr("font-size", 19)
    .text(p.name);

  g.append("text")
    .attr("transform", "translate(-39," + (plotH / 2 + 2) + ") rotate(-90)")
    .attr("text-anchor", "middle")
    .attr("font-size", 19)
    .text(yLabel);
});
</script>
</body>
</html>
